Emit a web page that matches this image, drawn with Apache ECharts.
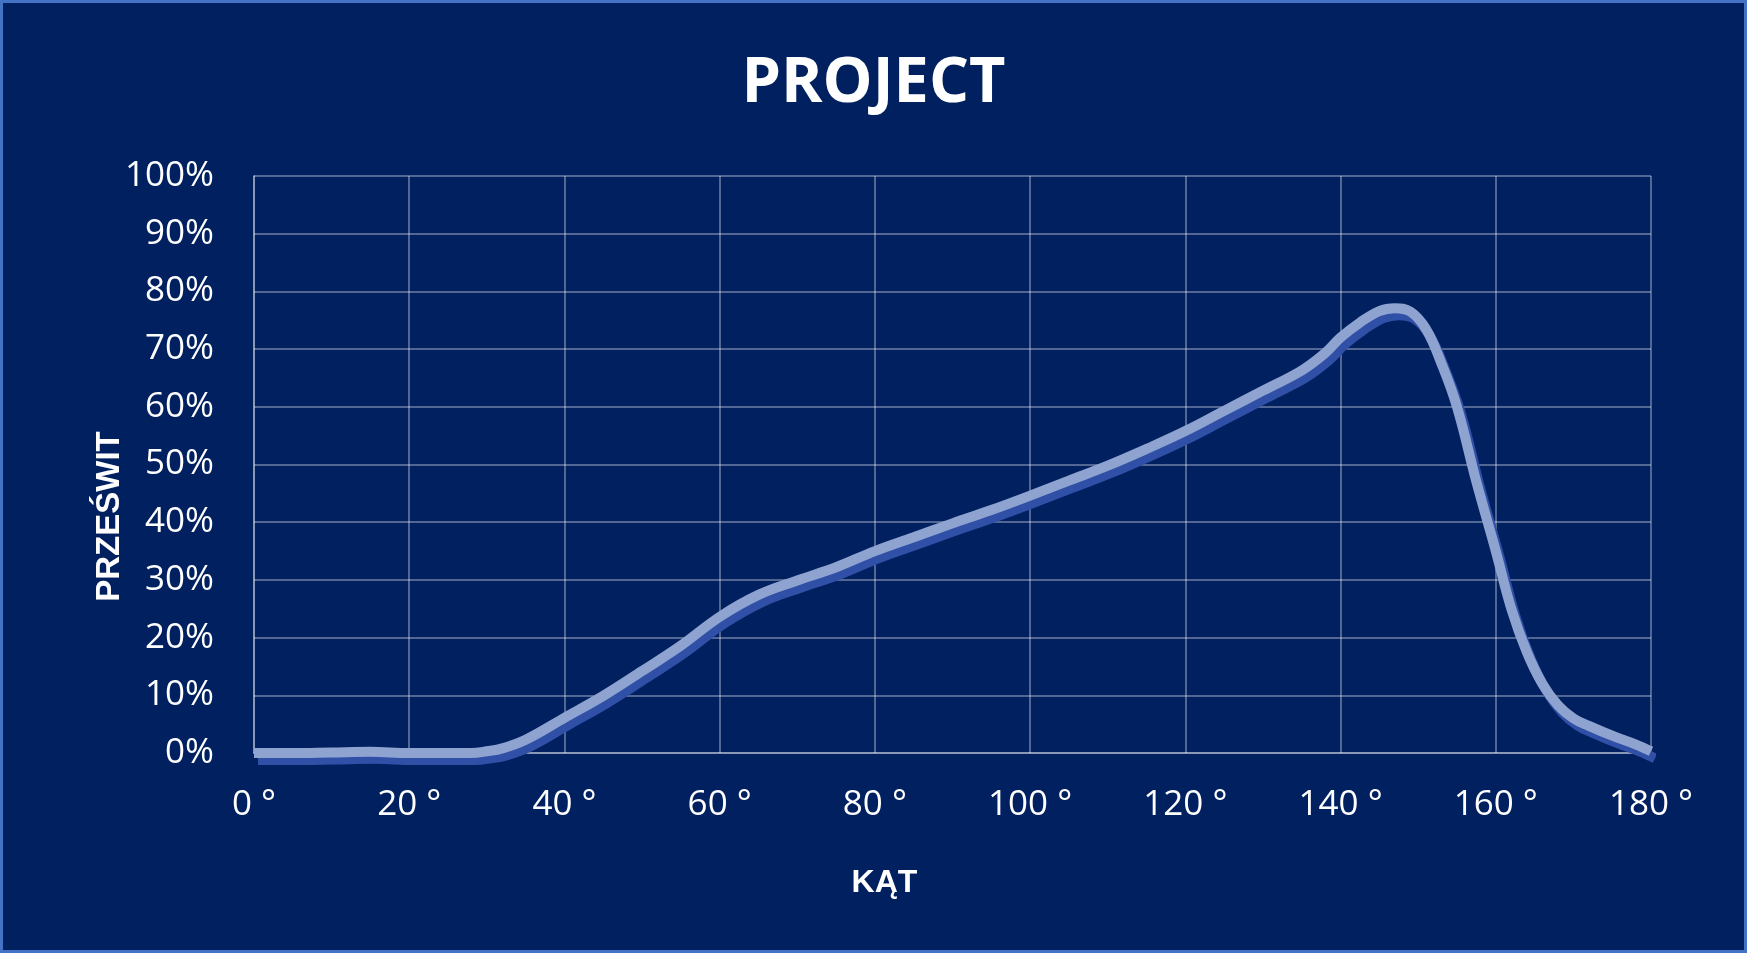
<!DOCTYPE html>
<html>
<head>
<meta charset="utf-8">
<script src="https://cdn.jsdelivr.net/npm/echarts@6/dist/echarts.min.js"></script>
<style>
  html, body { margin: 0; padding: 0; background: #002060; }
  #chart { width: 1747px; height: 953px; }
</style>
</head>
<body>
<div id="chart"></div>
<script>
// Data
var angles = [0, 5, 10, 15, 20, 25, 28, 30, 32, 35, 40, 45, 50, 55, 60, 65, 70, 75, 80, 85, 90, 95, 100, 105, 110, 115, 120, 125, 130, 135, 138, 140, 142.5, 145, 147, 149, 151, 153, 155, 157.5, 160, 162, 164, 166, 168, 170, 172, 175, 178, 180];
var clearance = [0, 0, 0.1, 0.2, 0, 0, 0, 0.3, 0.8, 2.3, 6.1, 9.9, 14.2, 18.6, 23.6, 27.4, 29.9, 32.2, 35.0, 37.4, 39.8, 42.1, 44.6, 47.2, 49.8, 52.7, 55.8, 59.3, 62.8, 66.3, 69.3, 72.0, 74.6, 76.6, 77.1, 76.5, 73.5, 67.5, 60.0, 47.0, 35.0, 25.0, 17.5, 12.0, 8.3, 6.0, 4.7, 3.0, 1.5, 0.3];
var xTicks = { min: 0, max: 180, step: 20, suffix: ' °' };
var yTicks = { min: 0, max: 100, step: 10, suffix: '%' };
var titleText = 'PROJECT';
var xName = 'KĄT';
var yName = 'PRZEŚWIT';

var points = angles.map(function (a, i) { return [a, clearance[i]]; });

var gridLine = { lineStyle: { color: 'rgba(255,255,255,0.32)', width: 2 } };

var chart = echarts.init(document.getElementById('chart'));
chart.setOption({
  animation: false,
  backgroundColor: '#002060',
  title: {
    text: titleText,
    left: 'center',
    top: 46,
    textStyle: { color: '#ffffff', fontFamily: 'Open Sans', fontWeight: 'bold', fontSize: 63, lineHeight: 66 }
  },
  graphic: [{
    type: 'rect',
    shape: { x: 1.5, y: 1.5, width: 1744, height: 950 },
    style: { fill: 'none', stroke: '#4472C4', lineWidth: 3 },
    silent: true
  }],
  grid: { left: 254, right: 96, top: 176, bottom: 200 },
  xAxis: {
    type: 'value',
    min: xTicks.min, max: xTicks.max, interval: xTicks.step,
    name: xName,
    nameLocation: 'middle',
    nameGap: 114,
    nameTextStyle: { color: '#ffffff', fontFamily: 'Liberation Sans', fontWeight: 'bold', fontSize: 32, padding: [0, 136, 0, 0] },
    axisLine: { show: true, lineStyle: gridLine.lineStyle },
    axisTick: { show: false },
    splitLine: { show: true, lineStyle: gridLine.lineStyle },
    axisLabel: {
      color: '#ffffff', fontFamily: 'Open Sans', fontSize: 35, margin: 35,
      formatter: function (v) { return v + xTicks.suffix; }
    }
  },
  yAxis: {
    type: 'value',
    min: yTicks.min, max: yTicks.max, interval: yTicks.step,
    name: yName,
    nameLocation: 'middle',
    nameGap: 128,
    nameMoveOverlap: false,
    nameTextStyle: { color: '#ffffff', fontFamily: 'Liberation Sans', fontWeight: 'bold', fontSize: 33, padding: [0, 104, 0, 0] },
    axisLine: { show: true, lineStyle: gridLine.lineStyle },
    axisTick: { show: false },
    splitLine: { show: true, lineStyle: gridLine.lineStyle },
    axisLabel: {
      color: '#ffffff', fontFamily: 'Open Sans', fontSize: 35, margin: 40,
      formatter: function (v) { return v + yTicks.suffix; }
    }
  },
  series: [{
    type: 'line',
    data: points,
    smooth: 0.4,
    showSymbol: false,
    clip: false,
    lineStyle: {
      color: '#8FA3D0',
      width: 10,
      shadowColor: '#2F50A6',
      shadowBlur: 0,
      shadowOffsetX: 4,
      shadowOffsetY: 7
    }
  }]
});
</script>
</body>
</html>
